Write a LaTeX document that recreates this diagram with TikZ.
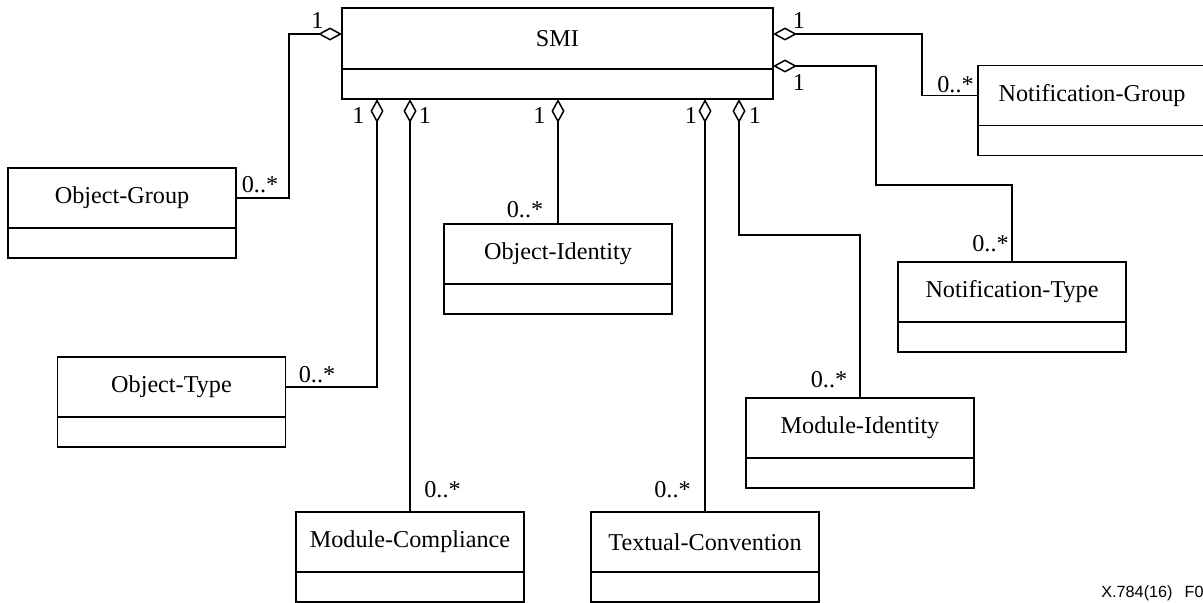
\documentclass[tikz,border=0pt]{standalone}
\usepackage{fontspec}
\setmainfont{Liberation Serif}
\newfontfamily\footfont{Liberation Sans}
\usepackage{tikz}
\usetikzlibrary{arrows.meta,positioning,calc}

\tikzset{
  umlclass/.style={draw, line width=0.75pt, minimum width=114pt, minimum height=30pt,
    inner sep=0pt, outer sep=0pt, font=\fontsize{12.1}{14}\selectfont},
  umlattr/.style={draw, line width=0.75pt, minimum width=114pt, minimum height=15pt,
    inner sep=0pt, outer sep=0pt},
  mult/.style={font=\fontsize{12.1}{14}\selectfont, inner sep=0pt, anchor=base},
  agg/.style={draw, line width=0.75pt, -{Diamond[open, length=12pt, width=6.5pt]}}
}

\begin{document}
\begin{tikzpicture}[x=0.5pt, y=-0.5pt]
\useasboundingbox (0,0) rectangle (1203,602);
\clip (0,0) rectangle (1203,602);
% SMI class
\node[umlclass, minimum width=215.5pt, minimum height=30.5pt] (smi) at (557.5,38.5) {SMI};
\node[umlattr, minimum width=215.5pt, below=0pt of smi] (smi-a) {};
% aggregated classes
\node[umlclass] (og) at (122,198) {Object-Group};
\node[umlclass] (ot) at (171.5,387) {Object-Type};
\node[umlclass] (oi) at (558,254) {Object-Identity};
\node[umlclass] (mc) at (410,542) {Module-Compliance};
\node[umlclass] (tc) at (705,542) {Textual-Convention};
\node[umlclass] (mi) at (860,428) {Module-Identity};
\node[umlclass] (nt) at (1012,292) {Notification-Type};
\node[umlclass] (ng) at (1092,95.5) {Notification-Group};
\foreach \n in {og,ot,oi,mc,tc,mi,nt,ng}
  \node[umlattr, below=0pt of \n] (\n-a) {};
% aggregations
\draw[agg] (og.east) -- ++(53,0) |- ($(smi.north west)+(0,26)$);
\draw[agg] (ot.east) -| ($(smi-a.south west)+(35,0)$);
\draw[agg] (mc.north) -- (mc.north |- smi-a.south);
\draw[agg] (oi.north) -- (oi.north |- smi-a.south);
\draw[agg] (tc.north) -- (tc.north |- smi-a.south);
\draw[agg] (mi.north) -- ++(0,-163) -| ($(smi-a.south west)+(397,0)$);
\draw[agg] (nt.north) -- ++(0,-77) -| ($(smi.north east)+(103,58)$) -- ($(smi.north east)+(0,58)$);
\draw[agg] (ng.west) -- ++(-56,0) |- ($(smi.north east)+(0,26)$);
% multiplicities
\foreach \nm/\x/\y in {og/317.5/28, ot/358.5/123, mc/425/123, oi/539.5/123,
    tc/691/123, mi/755/123, ng/799/28, nt/799/90}
  \node[mult] (one-\nm) at (\x,\y) {1};
\foreach \nm/\x/\y in {og/260/192, ot/317/382, mc/442.5/497, oi/525/217,
    tc/672.5/497, mi/829/387, ng/955.5/92, nt/990.5/251}
  \node[mult] (many-\nm) at (\x,\y) {0..*};
% figure id
\node[font=\footfont\fontsize{8.1}{10}\selectfont, anchor=base west, inner sep=0pt]
  (figid) at (1101,597) {X.784(16)\hspace{0.75em}F01};
\end{tikzpicture}
\end{document}
